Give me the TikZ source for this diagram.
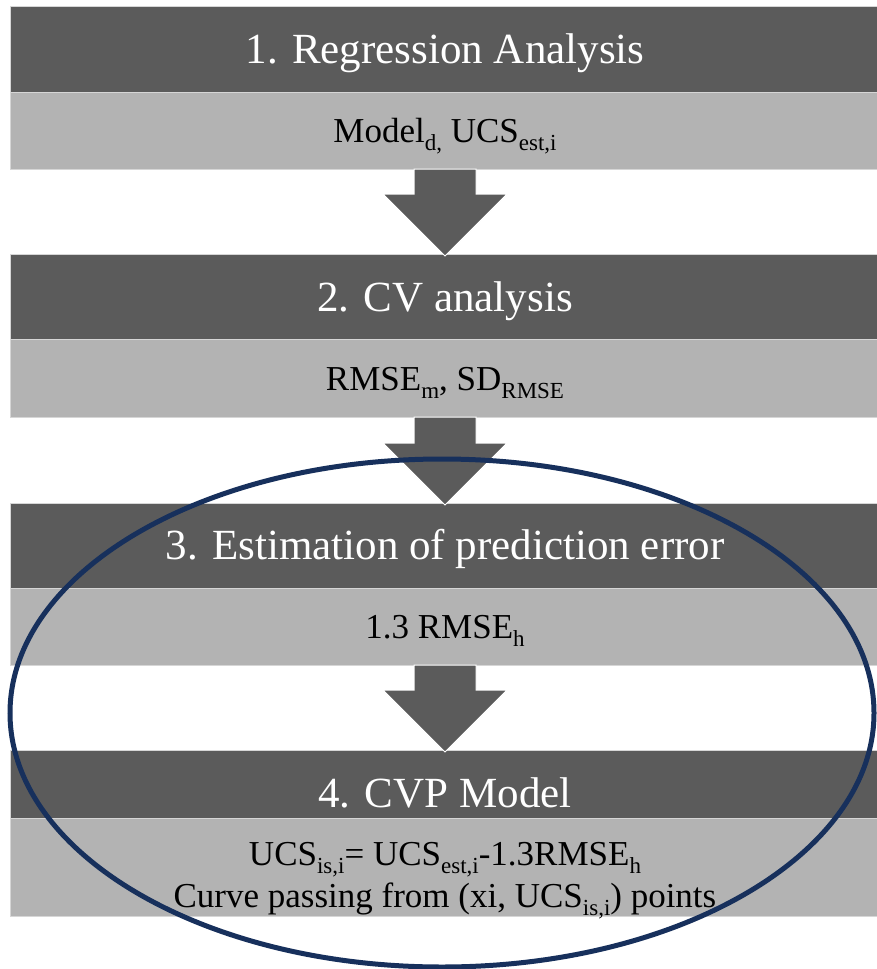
\documentclass[tikz,border=0pt]{standalone}
\usepackage{fontspec}
\setmainfont{Liberation Serif}
\usetikzlibrary{calc,shapes.geometric}
\definecolor{dk}{HTML}{5B5B5B}
\definecolor{lt}{HTML}{B3B3B3}
\definecolor{boxedge}{HTML}{D6D6D6}
\definecolor{navy}{HTML}{17305C}
\newcommand\sbx[1]{\raisebox{-8pt}{\fontsize{23}{23}\selectfont #1}}
\newcommand\flowarrow[2]{%
  \filldraw[arrowfill] ($(#1.south)+(-31,0)$) -- ($(#1.south)+(31,0)$)
    -- ($(#2.north)+(31,-60)$) -- ($(#2.north)+(62,-60)$)
    -- ($(#2.north)+(0,2)$) -- ($(#2.north)+(-62,-60)$)
    -- ($(#2.north)+(-31,-60)$) -- cycle;}
\begin{document}
\begin{tikzpicture}[x=1pt,y=-1pt,
  box/.style={rectangle, inner sep=0pt, outer sep=0pt, minimum width=870pt, draw=boxedge, line width=1pt},
  headbox/.style={box, fill=dk},
  bodybox/.style={box, fill=lt},
  htext/.style={anchor=base, inner sep=0pt, text=white, font=\fontsize{43}{50}\selectfont},
  btext/.style={anchor=base, inner sep=0pt, text=black, font=\fontsize{35}{40}\selectfont},
  arrowfill/.style={fill=dk, draw=white, line width=1pt, line join=miter},
  ring/.style={ellipse, draw=navy, line width=5pt, minimum width=864pt, minimum height=508pt, inner sep=0pt}]
\useasboundingbox (0,0) rectangle (876,969);
% boxes
\node[headbox, minimum height=86pt] (h1) at (445,49) {};
\node[bodybox, minimum height=77pt] (b1) at (445,130.5) {};
\node[headbox, minimum height=85pt] (h2) at (445,296.5) {};
\node[bodybox, minimum height=78pt] (b2) at (445,378) {};
\node[headbox, minimum height=85pt] (h3) at (445,545.5) {};
\node[bodybox, minimum height=77pt] (b3) at (445,626.5) {};
\node[headbox, minimum height=68pt] (h4) at (445,784) {};
\node[bodybox, minimum height=98pt] (b4) at (445,867) {};
% arrows
\flowarrow{b1}{h2}
\flowarrow{b2}{h3}
\flowarrow{b3}{h4}
% texts
\node[htext] (t1) at (445,63) {1. Regression Analysis};
\node[btext] (s1) at (445,142) {Model\sbx{d,} UCS\sbx{est,i}};
\node[htext] (t2) at (445,311) {2. CV analysis};
\node[btext] (s2) at (445,390) {RMSE\sbx{m}, SD\sbx{RMSE}};
\node[htext] (t3) at (445,559) {3. Estimation of prediction error};
\node[btext] (s3) at (445,638) {1.3 RMSE\sbx{h}};
\node[htext] (t4) at (445,807) {4. CVP Model};
\node[btext] (s4a) at (445,865) {UCS\sbx{is,i}= UCS\sbx{est,i}-1.3RMSE\sbx{h}};
\node[btext] (s4b) at (445,907) {Curve passing from (xi, UCS\sbx{is,i}) points};
% highlight ellipse
\node[ring] (hl) at (442,713) {};
\end{tikzpicture}
\end{document}
